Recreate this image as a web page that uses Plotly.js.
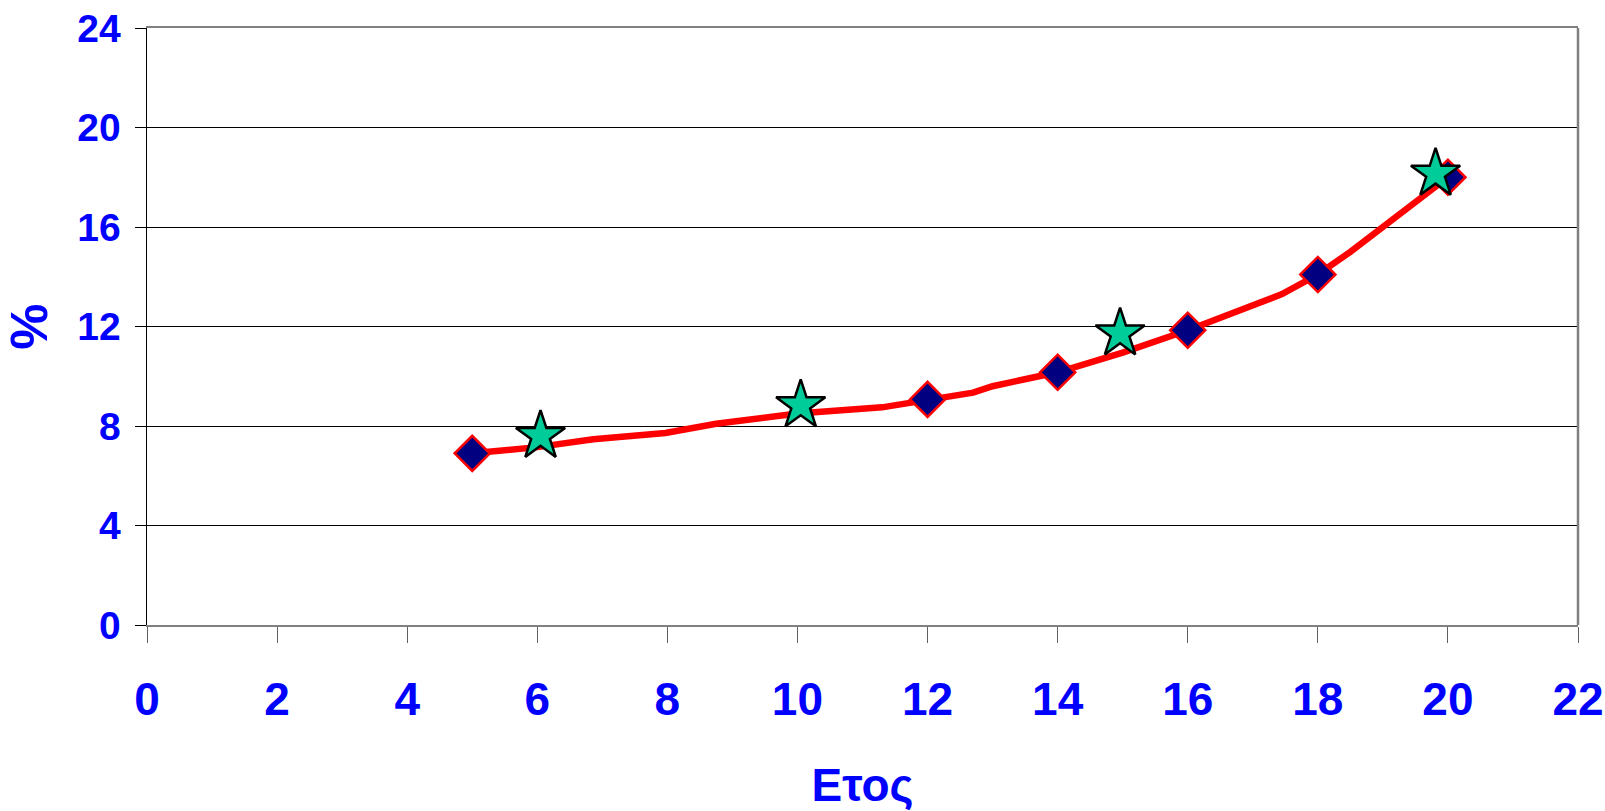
<!DOCTYPE html>
<html>
<head>
<meta charset="utf-8">
<script src="https://cdn.plot.ly/plotly-3.0.1.min.js"></script>
<style>html,body{margin:0;padding:0;background:#fff}#chart{width:1605px;height:811px}</style>
</head>
<body>
<div id="chart"></div>
<script>
// Smoothed curve (line only)
const curveX = [5, 6, 6.86, 7.97, 8.75, 10, 11.3, 12, 12.7, 13, 13.8, 14, 15, 16, 17.45, 18, 18.5, 19, 19.5, 20];
const curveY = [6.9, 7.15, 7.47, 7.72, 8.09, 8.5, 8.75, 9.07, 9.34, 9.6, 10.0, 10.16, 10.95, 11.85, 13.3, 14.09, 15.0, 16.0, 17.0, 18.0];
// Diamond markers
const diamondX = [5, 12, 14, 16, 18, 20];
const diamondY = [6.9, 9.07, 10.16, 11.85, 14.09, 18.0];
// Star markers
const starX = [6.05, 10.05, 14.96, 19.81];
const starY = [7.6, 8.83, 11.72, 18.14];
// Axis ticks
const xTicks = [0, 2, 4, 6, 8, 10, 12, 14, 16, 18, 20, 22];
const yTicks = [0, 4, 8, 12, 16, 20, 24];

const blue = '#0000FF';
const traces = [
  {x: curveX, y: curveY, mode: 'lines', line: {color: '#FF0000', width: 6.5}, hoverinfo: 'skip'},
  {x: diamondX, y: diamondY, mode: 'markers',
   marker: {symbol: 'diamond', size: 27, color: '#000080', line: {color: '#FF0000', width: 2.5}}},
  {x: starX, y: starY, mode: 'markers',
   marker: {symbol: 'star', size: 37, color: '#00CC99', line: {color: '#000000', width: 2.5}}}
];

const layout = {
  width: 1605, height: 811,
  margin: {l: 147, r: 27, t: 28, b: 186},
  paper_bgcolor: '#ffffff', plot_bgcolor: '#ffffff',
  showlegend: false,
  xaxis: {
    range: [0, 22], tickvals: xTicks, ticktext: xTicks.map(String),
    showgrid: false, zeroline: false,
    showline: true, linecolor: '#808080', linewidth: 2, mirror: true,
    ticks: 'outside', ticklen: 16, tickcolor: '#606060', tickwidth: 1,
    ticklabelstandoff: 17,
    tickfont: {family: 'Liberation Sans, Arial, sans-serif', size: 46, color: blue, weight: 'bold'},
    title: {text: '<b>Ετος</b>', standoff: 48,
            font: {family: 'Liberation Sans, Arial, sans-serif', size: 46, color: blue}}
  },
  yaxis: {
    range: [0, 24], tickvals: yTicks, ticktext: yTicks.map(String),
    showgrid: true, gridcolor: '#000000', gridwidth: 1, zeroline: false,
    showline: true, linecolor: '#000000', linewidth: 1.5, mirror: false,
    ticks: 'outside', ticklen: 11, tickcolor: '#000000', tickwidth: 1,
    ticklabelstandoff: 6,
    tickfont: {family: 'Liberation Sans, Arial, sans-serif', size: 39, color: blue, weight: 'bold'},
    title: {text: '<b>%</b>', standoff: 22,
            font: {family: 'Liberation Sans, Arial, sans-serif', size: 52, color: blue}}
  },
  shapes: [
    {type: 'line', xref: 'paper', yref: 'paper', x0: 1, x1: 1, y0: 0, y1: 1,
     line: {color: '#808080', width: 2.5}}
  ]
};

Plotly.newPlot('chart', traces, layout, {displayModeBar: false, staticPlot: true});
</script>
</body>
</html>
